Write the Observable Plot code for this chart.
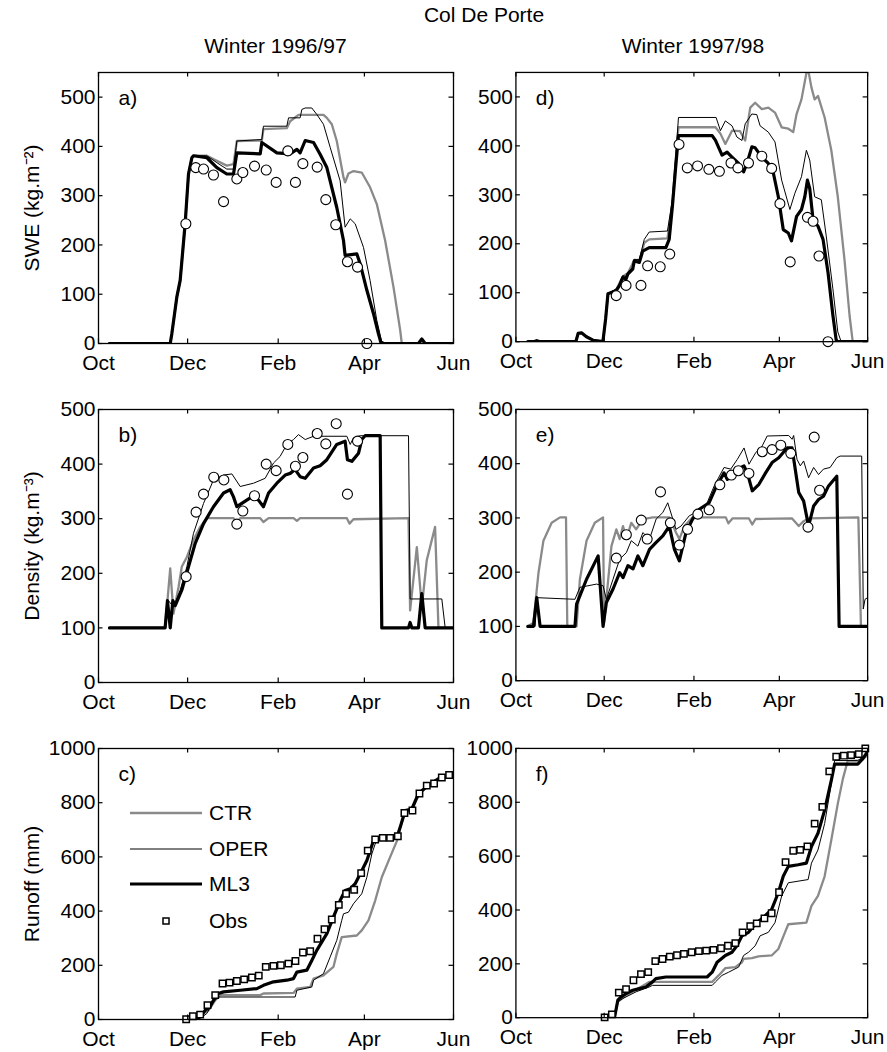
<!DOCTYPE html>
<html><head><meta charset="utf-8">
<script src="https://cdn.jsdelivr.net/npm/d3@7"></script>
<script src="https://cdn.jsdelivr.net/npm/@observablehq/plot@0.6"></script>
<style>
body{margin:0;background:#fff;}
#fig{position:relative;width:887px;height:1052px;font-family:"Liberation Sans",Arial,Helvetica,sans-serif;overflow:hidden;background:#fff}
.t{position:absolute;font-size:21px;line-height:21px;white-space:nowrap;transform:translateX(-50%);color:#000}
.p{position:absolute}
</style></head><body><div id="fig"></div>
<script>
// ---------- axes / labels ----------
const monthTicks = [0, 61, 123, 182, 243];          // days since 1 Oct
const monthLabels = ["Oct", "Dec", "Feb", "Apr", "Jun"];
const seriesNames = ["CTR", "OPER", "ML3"];
const obsName = "Obs";
const sweTicks = [0, 100, 200, 300, 400, 500];
const densTicks = [0, 100, 200, 300, 400, 500];
const runoffTicks = [0, 200, 400, 600, 800, 1000];
const mainTitle = "Col De Porte";
const winterTitles = ["Winter 1996/97", "Winter 1997/98"];
const yLabels = ["SWE (kg.m\u207B\u00B2)", "Density (kg.m\u207B\u00B3)", "Runoff (mm)"];
const panelLetters = ["a)", "b)", "c)", "d)", "e)", "f)"];

// ---------- data: [day since 1 Oct, value] ----------
// SWE 1996/97
const swe1_CTR = [[7.5,0],[49.1,0],[50.2,20],[53.6,94],[55.9,128],[59.3,243],[61.6,344],[63.9,377],[65.0,381],[74.2,381],[81.0,371],[87.8,361],[92.4,364],[94.7,411],[111.8,412],[112.9,435],[128.9,437],[131.2,451],[136.9,464],[154.0,464],[156.3,458],[159.7,445],[163.1,411],[167.7,337],[168.8,327],[171.1,345],[174.6,350],[180.2,347],[185.9,317],[190.5,283],[196.2,209],[201.9,115],[206.5,27],[207.6,0],[242.5,0]];
const swe1_OPER = [[7.5,0],[49.1,0],[50.2,20],[53.6,94],[55.9,128],[59.3,243],[61.6,344],[63.9,377],[65.0,381],[74.2,381],[81.0,367],[87.8,354],[92.4,354],[94.7,411],[111.8,414],[112.9,441],[128.9,441],[130.1,458],[138.0,458],[139.2,475],[141.5,478],[146.0,478],[149.4,465],[154.0,445],[158.6,398],[165.4,330],[168.8,236],[172.3,253],[175.7,243],[181.4,195],[185.9,128],[190.5,47],[193.9,3],[196.2,0],[242.5,0]];
const swe1_ML3 = [[7.5,0],[49.1,0],[50.2,20],[53.6,94],[55.9,128],[59.3,243],[61.6,344],[63.9,377],[65.0,381],[74.2,377],[81.0,357],[87.8,344],[92.4,344],[94.7,387],[110.7,385],[111.8,408],[122.1,387],[131.2,385],[135.8,394],[138.0,387],[141.5,412],[147.2,408],[151.7,384],[156.3,357],[163.1,276],[167.7,209],[168.8,179],[176.8,182],[179.1,162],[183.7,108],[188.2,61],[191.6,20],[193.2,3],[195.1,0],[219.0,0],[221.3,9],[223.6,0],[242.5,0]];
const swe1_obs = [[59.8,243],[66.6,357],[71.9,354],[78.7,342],[85.6,288],[94.7,334],[98.8,347],[106.8,360],[114.8,352],[121.6,327],[129.6,391],[134.8,327],[139.9,365],[149.7,358],[155.6,292],[162.4,241],[170.4,166],[177.3,155],[183.7,0]];
// SWE 1997/98
const swe2_CTR = [[8.2,0],[12.1,0],[14.4,2],[16.7,0],[41.4,0],[43.0,17],[45.3,18],[48.7,10],[53.3,3],[60.1,0],[62.0,47],[63.6,98],[69.3,106],[73.8,133],[77.3,140],[81.8,167],[85.3,165],[88.7,202],[92.1,209],[104.7,211],[108.1,283],[110.4,371],[112.3,438],[137.9,438],[141.3,425],[144.7,404],[149.3,431],[154.8,430],[158.4,411],[161.9,478],[165.3,488],[169.9,475],[174.4,478],[179.0,468],[183.6,438],[188.2,435],[191.6,428],[193.9,465],[197.3,495],[200.7,549],[201.9,556],[204.2,519],[206.4,495],[208.7,502],[213.3,458],[217.9,391],[222.4,296],[227.0,168],[230.5,54],[232.7,0],[242.6,0]];
const swe2_OPER = [[8.2,0],[12.1,0],[14.4,2],[16.7,0],[41.4,0],[43.0,17],[45.3,18],[48.7,10],[53.3,3],[60.1,0],[62.0,47],[63.6,98],[69.3,108],[71.6,118],[73.8,135],[76.1,133],[77.3,142],[80.7,152],[81.8,168],[85.3,168],[88.7,209],[92.1,224],[104.7,226],[108.1,290],[110.4,377],[112.3,458],[138.3,458],[141.3,431],[144.7,451],[149.3,441],[152.7,418],[156.2,411],[158.4,445],[163.0,465],[166.4,464],[168.7,441],[174.4,428],[179.0,408],[183.6,330],[189.3,270],[192.7,303],[197.3,337],[200.7,391],[203.0,371],[206.4,296],[211.0,290],[214.4,216],[219.0,108],[222.4,20],[224.7,0],[242.6,0]];
const swe2_ML3 = [[8.2,0],[12.1,0],[14.4,2],[16.7,0],[41.4,0],[43.0,17],[45.3,18],[48.7,10],[53.3,3],[60.1,0],[62.0,47],[63.6,98],[69.3,104],[71.6,115],[73.8,131],[76.1,128],[77.3,138],[80.7,148],[81.8,165],[85.3,162],[87.6,185],[92.1,192],[103.6,192],[105.9,209],[108.1,276],[110.4,357],[112.3,421],[135.6,421],[137.9,411],[142.4,381],[145.9,387],[149.3,377],[153.9,364],[157.3,347],[159.6,364],[163.0,398],[165.3,396],[169.9,377],[174.4,364],[177.9,344],[181.3,296],[184.7,229],[188.2,222],[190.4,206],[193.9,256],[197.3,270],[199.6,296],[201.4,330],[203.0,313],[205.3,249],[208.7,236],[212.2,209],[215.6,142],[219.0,54],[221.3,3],[222.4,0],[242.6,0]];
const swe2_obs = [[69.3,94],[76.1,115],[86.4,115],[91.0,155],[99.7,153],[106.3,179],[112.7,403],[118.4,355],[125.5,359],[133.3,352],[140.6,348],[148.6,365],[153.4,355],[160.7,365],[169.9,379],[176.7,354],[182.4,282],[189.5,163],[201.4,254],[205.3,246],[209.4,175],[215.6,0]];
// Density 1996/97
const dens1_CTR = [[7.5,100],[45.6,100],[49.1,209],[51.3,126],[54.8,175],[57.0,212],[60.5,230],[65.0,261],[69.6,285],[74.2,301],[92.4,301],[94.7,291],[97.0,301],[110.7,301],[112.9,294],[116.4,301],[133.5,301],[135.8,296],[138.0,301],[170.0,301],[171.8,291],[174.5,299],[212.2,301],[213.3,132],[217.9,248],[221.3,138],[224.7,224],[230.4,285],[232.7,100],[242.5,100]];
const dens1_OPER = [[7.5,100],[45.6,100],[47.9,150],[51.3,138],[55.9,169],[60.5,212],[65.0,273],[71.9,328],[78.7,371],[85.6,380],[91.3,382],[97.0,359],[106.1,365],[114.1,374],[119.8,402],[124.3,414],[128.9,436],[133.5,445],[136.9,454],[141.5,445],[147.2,451],[170.0,451],[172.3,436],[174.5,448],[179.1,452],[212.2,452],[213.3,153],[235.0,153],[237.3,100],[242.5,100]];
const dens1_ML3 = [[7.5,100],[45.6,100],[47.2,150],[49.1,100],[50.9,150],[52.5,141],[57.0,169],[61.6,212],[66.2,255],[71.9,291],[78.7,322],[85.6,347],[90.1,353],[92.4,340],[94.7,322],[98.1,328],[104.9,340],[109.5,334],[112.9,322],[116.4,347],[122.1,365],[127.8,380],[131.2,383],[134.6,390],[138.0,377],[141.5,374],[147.2,393],[151.7,397],[156.3,408],[163.1,436],[168.8,442],[170.4,408],[173.4,405],[178.0,420],[180.2,445],[182.5,452],[192.8,452],[193.9,100],[212.2,100],[213.3,110],[214.5,100],[219.0,100],[221.3,163],[223.6,100],[242.5,100]];
const dens1_obs = [[60.0,194],[66.8,312],[71.9,345],[78.9,376],[85.8,371],[94.7,290],[98.8,314],[106.8,342],[114.8,400],[121.6,388],[129.6,436],[134.8,396],[139.9,412],[149.7,456],[155.6,437],[162.7,474],[170.4,345],[177.3,442]];
// Density 1997/98
const dens2_CTR = [[8.2,100],[12.1,107],[15.6,199],[19.0,258],[24.7,291],[30.5,301],[34.6,301],[35.5,100],[41.9,100],[44.2,187],[48.8,258],[54.5,291],[60.2,301],[60.9,107],[66.0,248],[69.4,279],[71.7,261],[74.0,285],[76.3,261],[79.7,291],[83.1,279],[87.7,298],[94.6,301],[106.0,301],[110.6,273],[112.9,261],[116.4,285],[122.1,301],[145.0,301],[146.8,290],[149.6,299],[161.0,299],[163.3,288],[165.6,298],[190.8,299],[195.4,285],[198.8,294],[202.2,299],[236.6,301],[238.4,100],[242.3,100]];
const dens2_OPER = [[8.2,100],[13.3,100],[14.4,153],[40.8,150],[44.2,172],[55.7,178],[60.2,175],[62.5,150],[67.1,187],[71.7,224],[76.3,236],[79.7,258],[84.3,248],[87.7,273],[92.3,261],[96.9,298],[101.5,310],[104.9,328],[110.6,279],[114.1,285],[119.8,304],[124.4,310],[131.2,322],[137.0,359],[143.8,393],[148.4,390],[153.0,408],[157.6,429],[161.0,399],[165.6,420],[170.2,433],[173.6,451],[188.5,452],[190.8,445],[191.9,452],[194.2,408],[196.5,396],[198.8,405],[202.2,374],[205.7,393],[209.1,380],[212.5,390],[217.1,393],[221.7,411],[224.0,414],[238.9,414],[240.0,132],[241.2,150],[243,153]];
const dens2_ML3 = [[8.2,100],[12.1,100],[14.4,153],[16.7,100],[40.8,100],[41.9,141],[48.8,187],[56.8,230],[60.2,100],[62.5,144],[67.1,169],[71.7,199],[74.0,190],[77.4,212],[80.9,206],[84.3,230],[87.7,212],[92.3,242],[96.9,255],[101.5,267],[106.0,285],[109.5,242],[112.9,221],[117.5,273],[122.1,298],[126.7,316],[133.5,328],[138.1,356],[143.8,383],[146.1,371],[149.6,380],[153.0,390],[157.6,396],[159.9,383],[163.3,350],[167.9,362],[172.5,383],[177.0,402],[181.6,411],[187.4,429],[190.8,429],[195.4,347],[198.8,331],[202.2,285],[205.7,322],[209.1,334],[212.5,340],[216.0,359],[221.7,377],[223.3,100],[242.3,100]];
const dens2_obs = [[69.4,226],[76.3,269],[86.6,296],[90.7,261],[99.9,348],[106.7,291],[112.9,250],[118.6,279],[125.7,307],[133.5,315],[140.9,361],[148.9,379],[153.7,387],[161.0,382],[170.2,422],[177.0,426],[183.0,434],[189.9,419],[201.8,283],[206.1,449],[209.8,351]];
// Runoff 1996/97
const run1_CTR = [[60.0,0],[65.0,0],[75.3,34],[79.9,71],[83.3,90],[110.7,90],[112.9,96],[133.5,98],[135.8,114],[144.9,120],[147.2,151],[154.0,163],[160.8,194],[163.1,243],[166.5,304],[176.8,310],[180.2,329],[184.8,366],[189.4,439],[193.9,525],[199.6,599],[205.3,672],[206.5,709],[209.9,764],[214.5,771],[217.9,814],[221.3,842],[227.0,866],[233.9,891],[242.5,897]];
const run1_OPER = [[60.0,0],[63.9,0],[69.6,4],[74.1,22],[78.7,65],[82.1,83],[134.6,83],[135.8,108],[146.0,120],[147.2,145],[154.0,169],[158.6,231],[163.1,292],[166.5,366],[167.7,390],[171.1,396],[174.5,427],[180.2,464],[183.7,525],[187.1,611],[189.4,648],[192.8,672],[204.2,672],[207.6,734],[209.9,771],[214.5,777],[217.9,820],[221.3,844],[227.0,869],[233.9,893],[242.5,899]];
const run1_ML3 = [[59.3,0],[66.2,0],[68.4,10],[70.7,16],[73.0,34],[76.4,47],[78.7,71],[82.1,96],[85.6,102],[97.0,108],[108.4,114],[112.9,126],[119.8,139],[128.9,145],[133.5,151],[135.8,175],[142.6,182],[146.0,218],[149.4,255],[156.3,317],[160.8,378],[165.4,439],[168.8,476],[172.3,482],[175.7,501],[179.1,537],[183.7,587],[188.2,660],[192.8,672],[204.2,672],[206.5,709],[209.9,771],[214.5,777],[217.9,820],[221.3,844],[227.0,869],[233.9,893],[242.5,899]];
const run1_obs = [[60.0,1],[64.6,12],[69.6,18],[74.6,53],[79.9,90],[84.9,133],[89.7,136],[94.7,142],[99.7,148],[105.0,155],[109.7,162],[114.5,194],[119.8,198],[124.8,200],[130.0,206],[134.8,216],[139.9,247],[144.9,252],[149.9,298],[154.7,333],[159.7,369],[164.5,423],[169.5,464],[175.0,479],[179.8,540],[184.3,623],[189.4,664],[194.6,670],[199.6,670],[204.9,676],[209.4,762],[214.9,771],[219.7,834],[224.7,863],[229.7,871],[235.0,893],[240.0,902]];
// Runoff 1997/98
const run2_CTR = [[60.1,0],[68.1,0],[70.4,59],[76.1,83],[80.7,96],[92.1,133],[135.6,133],[140.1,157],[144.7,184],[151.6,188],[156.2,206],[157.3,218],[163.0,221],[167.6,228],[176.7,231],[181.3,255],[185.9,317],[188.2,347],[200.7,353],[204.2,415],[208.7,452],[213.3,525],[217.9,660],[222.4,795],[225.9,887],[229.3,955],[238.4,955],[242.6,973]];
const run2_OPER = [[60.1,0],[68.1,0],[70.4,59],[73.8,71],[83.0,96],[92.1,114],[94.4,120],[135.6,120],[137.9,133],[142.4,157],[147.0,169],[153.9,188],[157.3,231],[160.7,243],[165.3,267],[168.7,304],[174.4,317],[179.0,353],[183.6,452],[188.2,501],[201.9,513],[204.2,574],[208.7,623],[213.3,721],[217.9,869],[220.2,955],[236.2,955],[242.6,979]];
const run2_ML3 = [[60.1,0],[68.1,0],[70.4,65],[72.7,77],[76.1,90],[80.7,102],[85.3,108],[89.8,114],[94.4,133],[96.7,145],[103.6,151],[132.1,151],[135.6,169],[139.0,206],[144.7,231],[149.3,243],[152.7,267],[156.2,304],[160.7,317],[165.3,347],[172.1,378],[176.7,402],[181.3,464],[184.7,525],[188.2,562],[195.0,568],[200.7,574],[204.2,636],[208.7,685],[213.3,771],[217.9,881],[220.2,942],[236.2,942],[239.6,961],[242.6,985]];
const run2_obs = [[61.3,1],[66.3,12],[71.1,93],[76.1,106],[81.2,139],[86.4,162],[91.4,169],[96.3,210],[101.3,218],[106.3,227],[111.3,232],[116.1,237],[121.4,243],[126.4,247],[131.5,249],[136.5,252],[141.7,258],[146.5,267],[151.6,277],[156.6,317],[161.9,340],[166.4,350],[171.7,369],[176.7,388],[181.8,466],[186.3,578],[191.6,620],[196.4,623],[201.4,636],[206.4,721],[211.7,783],[216.5,915],[221.3,969],[226.6,973],[231.6,975],[236.9,979],[241.4,1000]];

// ---------- styles ----------
const FONT = '"Liberation Sans", Arial, Helvetica, sans-serif';
const GRAY = "#8a8a8a";
const lineStyle = {
  CTR: {stroke: GRAY, strokeWidth: 2.3},
  OPER: {stroke: "#000", strokeWidth: 1},
  ML3: {stroke: "#000", strokeWidth: 3.2}
};
const cols = [{L: 98, R: 453}, {L: 516, R: 870}];
const rows = [{T: 72, B: 343}, {T: 409, B: 682}, {T: 748, B: 1019}];
const mL = 90, mR = 20, mT = 10, mB = 40, TK = 4.5;

const panels = [
  {col: 0, row: 0, letter: panelLetters[0], series: [swe1_CTR, swe1_OPER, swe1_ML3], obs: swe1_obs, sym: "circle", domain: [0, 550], ticks: sweTicks},
  {col: 0, row: 1, letter: panelLetters[1], series: [dens1_CTR, dens1_OPER, dens1_ML3], obs: dens1_obs, sym: "circle", domain: [0, 500], ticks: densTicks},
  {col: 0, row: 2, letter: panelLetters[2], series: [run1_CTR, run1_OPER, run1_ML3], obs: run1_obs, sym: "square", domain: [0, 1000], ticks: runoffTicks},
  {col: 1, row: 0, letter: panelLetters[3], series: [swe2_CTR, swe2_OPER, swe2_ML3], obs: swe2_obs, sym: "circle", domain: [0, 550], ticks: sweTicks},
  {col: 1, row: 1, letter: panelLetters[4], series: [dens2_CTR, dens2_OPER, dens2_ML3], obs: dens2_obs, sym: "circle", domain: [0, 500], ticks: densTicks},
  {col: 1, row: 2, letter: panelLetters[5], series: [run2_CTR, run2_OPER, run2_ML3], obs: run2_obs, sym: "square", domain: [0, 1000], ticks: runoffTicks}
];

const fig = document.getElementById("fig");

for (const p of panels) {
  const c = cols[p.col], r = rows[p.row];
  const fw = c.R - c.L, fh = r.B - r.T;
  const marks = [];
  p.series.forEach((s, i) => {
    marks.push(Plot.line(s, {x: d => d[0], y: d => d[1], ...lineStyle[seriesNames[i]], clip: true, strokeLinejoin: "round"}));
  });
  marks.push(Plot.dot(p.obs, {x: d => d[0], y: d => d[1], symbol: p.sym, r: p.sym === "circle" ? 5 : 3.6,
    fill: "white", stroke: "black", strokeWidth: p.sym === "circle" ? 1.1 : 1.5}));
  marks.push(Plot.frame({stroke: "black", strokeWidth: 1.3}));
  marks.push(Plot.tickX(monthTicks, {x: d => d, insetTop: fh - TK, strokeWidth: 1.2}));
  marks.push(Plot.tickX(monthTicks, {x: d => d, insetBottom: fh - TK, strokeWidth: 1.2}));
  marks.push(Plot.tickY(p.ticks, {y: d => d, insetRight: fw - TK, strokeWidth: 1.2}));
  marks.push(Plot.tickY(p.ticks, {y: d => d, insetLeft: fw - TK, strokeWidth: 1.2}));
  marks.push(Plot.axisX(monthTicks, {tickSize: 0, tickPadding: 12, label: null,
    tickFormat: d => monthLabels[monthTicks.indexOf(d)]}));
  marks.push(Plot.axisY(p.ticks, {tickSize: 0, tickPadding: 3, label: null, tickFormat: d => String(d)}));
  marks.push(Plot.text([p.letter], {text: d => d, frameAnchor: "top-left", dx: 20, dy: 26, textAnchor: "start", lineAnchor: "middle"}));
  if (p.col === 0) {
    marks.push(Plot.text([yLabels[p.row]], {text: d => d, frameAnchor: "left", dx: -66, rotate: -90, textAnchor: "middle", lineAnchor: "middle"}));
  }
  const svg = Plot.plot({
    width: fw + mL + mR, height: fh + mT + mB,
    marginLeft: mL, marginRight: mR, marginTop: mT, marginBottom: mB,
    x: {domain: [0, 243]},
    y: {domain: p.domain},
    style: {background: "transparent", overflow: "visible", fontFamily: FONT, fontSize: "21px", color: "black"},
    marks
  });
  const wrap = document.createElement("div");
  wrap.className = "p";
  wrap.style.left = (c.L - mL) + "px";
  wrap.style.top = (r.T - mT) + "px";
  wrap.appendChild(svg);
  fig.appendChild(wrap);
}

// titles
function addTitle(text, cx, cy) {
  const d = document.createElement("div");
  d.className = "t";
  d.textContent = text;
  d.style.left = cx + "px";
  d.style.top = (cy - 10.3) + "px";
  fig.appendChild(d);
}
addTitle(mainTitle, (cols[0].L + cols[1].R) / 2, 14);
addTitle(winterTitles[0], (cols[0].L + cols[0].R) / 2, 45);
addTitle(winterTitles[1], (cols[1].L + cols[1].R) / 2, 45);

// legend inside panel c
const NS = "http://www.w3.org/2000/svg";
const leg = document.createElementNS(NS, "svg");
leg.setAttribute("width", 200); leg.setAttribute("height", 150);
leg.style.position = "absolute"; leg.style.left = "120px"; leg.style.top = "795px";
leg.style.fontFamily = FONT; leg.style.fontSize = "21px";
const legY = [18, 54, 89, 126];
seriesNames.forEach((n, i) => {
  const l = document.createElementNS(NS, "line");
  l.setAttribute("x1", 10); l.setAttribute("x2", 82);
  l.setAttribute("y1", legY[i]); l.setAttribute("y2", legY[i]);
  l.setAttribute("stroke", lineStyle[n].stroke); l.setAttribute("stroke-width", lineStyle[n].strokeWidth);
  leg.appendChild(l);
});
const sq = document.createElementNS(NS, "rect");
sq.setAttribute("x", 43); sq.setAttribute("y", legY[3] - 3); sq.setAttribute("width", 6); sq.setAttribute("height", 6);
sq.setAttribute("fill", "white"); sq.setAttribute("stroke", "black"); sq.setAttribute("stroke-width", 1.5);
leg.appendChild(sq);
[...seriesNames, obsName].forEach((n, i) => {
  const t = document.createElementNS(NS, "text");
  t.setAttribute("x", 89); t.setAttribute("y", legY[i]); t.setAttribute("dy", "0.35em");
  t.textContent = n;
  leg.appendChild(t);
});
fig.appendChild(leg);
</script>
</body></html>
